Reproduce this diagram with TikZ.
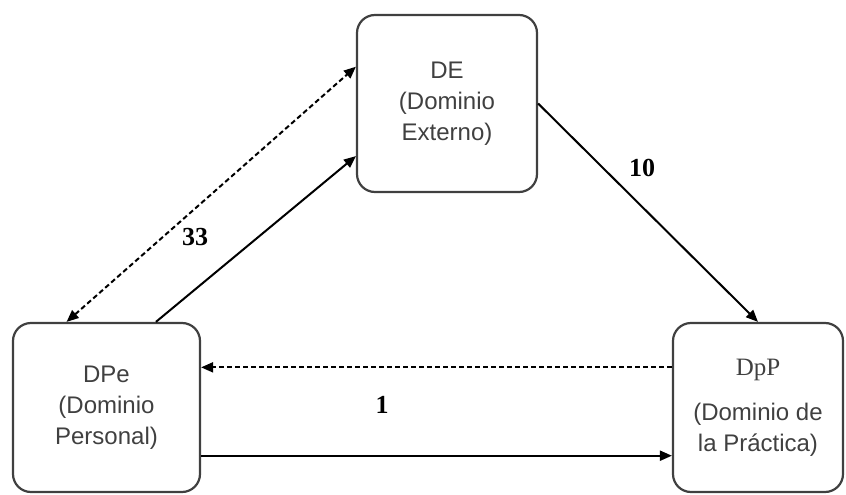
\documentclass[tikz,border=0pt]{standalone}
\usepackage{fontspec}
\setmainfont{Liberation Serif}
\newfontfamily\boxfont{Liberation Sans}
\usetikzlibrary{arrows.meta}

\begin{document}
\begin{tikzpicture}[x=1pt, y=-1pt,
  dom/.style={draw=black!75, line width=2.2pt, rounded corners=18pt, align=center, text=black!75, font=\boxfont\fontsize{24}{31}\selectfont},
  num/.style={font=\bfseries\fontsize{26}{30}\selectfont},
  con/.style={line width=2pt, -{Triangle[length=12pt,width=10pt]}}]
  \useasboundingbox (0,0) rectangle (846,495);
  % dominios
  \node[dom, minimum width=180pt, minimum height=177pt] (de) at (447,103.5) {DE\\(Dominio\\Externo)};
  \node[dom, minimum width=187pt, minimum height=169pt] (dpe) at (106.5,407.5) {DPe\\(Dominio\\Personal)};
  \node[dom, minimum width=170pt, minimum height=169pt] (dpp) at (758,407.5) {{\rmfamily\fontsize{25}{30}\selectfont DpP}\\[14pt](Dominio de\\la Práctica)};
  % conexiones
  \draw[con] (dpe.60) -- (de.210);
  \draw[con, {Triangle[length=12pt,width=10pt]}-{Triangle[length=12pt,width=10pt]}, dash pattern=on 5pt off 3pt] (dpe.115) -- (de.158);
  \draw[con] (de.east) -- (dpp.north);
  \draw[con, dash pattern=on 5pt off 3pt] (dpp.155) -- (dpp.155 -| dpe.east);
  \draw[con] (dpe.-27) -- (dpe.-27 -| dpp.west);
  % valores
  \node[num] (n33) at (195,237) {33};
  \node[num] (n10) at (642,168) {10};
  \node[num] (n1) at (382,405) {1};
\end{tikzpicture}
\end{document}
